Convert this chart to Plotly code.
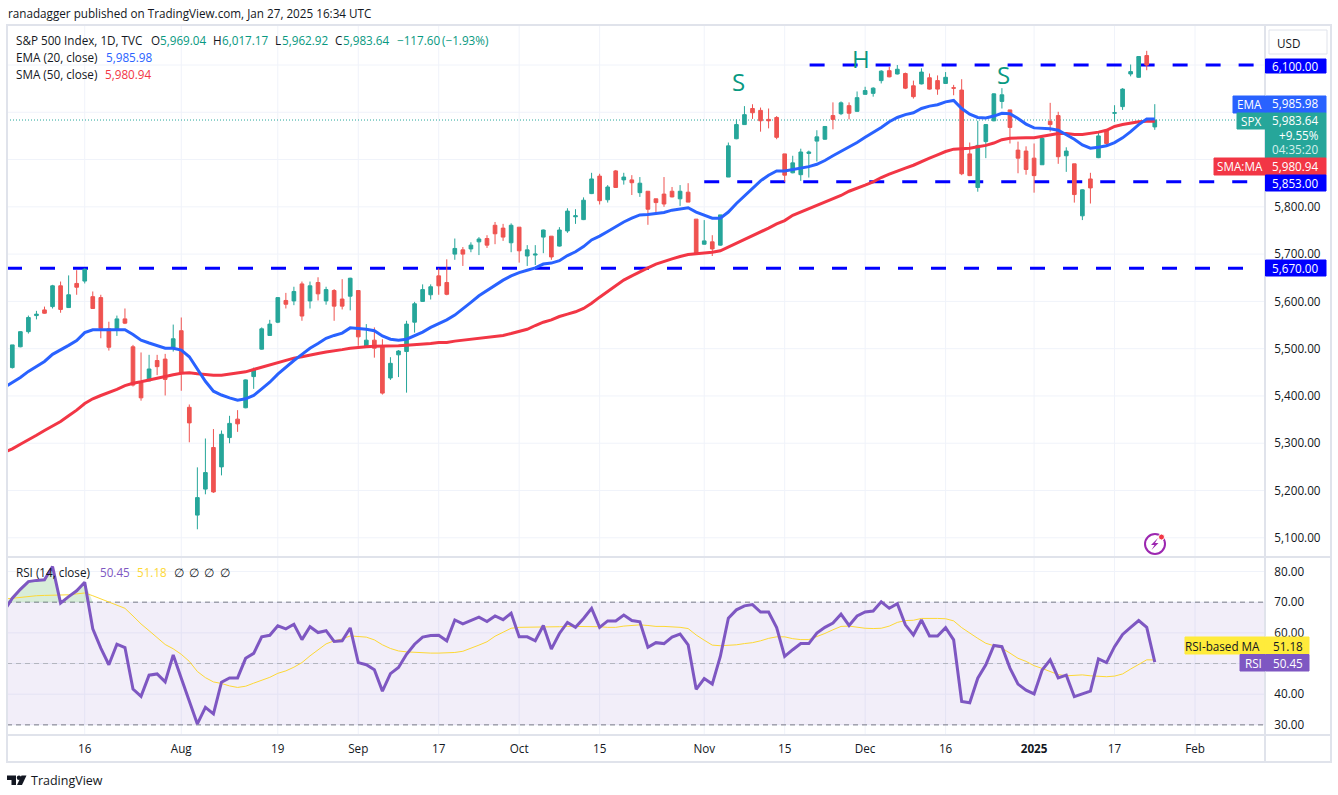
import plotly.graph_objects as go

# daily bars, counted from the first visible candle
opens = [5460,5504,5536,5570,5582,5589,5633,5587,5638,5643,
         5610,5608,5542,5540,5563,5504,5428,5432,5475,5478,
         5502,5538,5376,5148,5203,5291,5250,5312,5351,5375,
         5441,5499,5528,5556,5602,5601,5637,5601,5640,5601,
         5623,5605,5611,5623,5504,5518,5504,5438,5487,5494,
         5556,5600,5614,5654,5640,5700,5709,5711,5726,5733,
         5761,5755,5724,5757,5696,5698,5736,5738,5717,5749,
         5779,5773,5828,5865,5815,5876,5857,5857,5830,5833,
         5817,5827,5833,5817,5831,5774,5721,5726,5719,5863,
         5944,5974,6008,6004,5985,5989,5912,5872,5868,5913,
         5939,5943,5993,5997,6014,6002,6038,6040,6067,6088,
         6081,6082,6056,6060,6073,6067,6061,6052,6047,5912,
         5841,5938,5982,6023,6005,5920,5918,5903,5889,5981,
         5993,5908,5891,5781,5859,5904,5962,5998,6012,6081,
         6074,6120,5969.04]
highs = [5508,5537,5570,5580,5589,5635,5642,5655,5666,5670,
         5621,5614,5557,5570,5585,5508,5492,5487,5487,5489,
         5551,5566,5382,5249,5310,5330,5327,5358,5370,5435,
         5460,5545,5561,5609,5618,5631,5642,5642,5651,5631,
         5626,5647,5650,5623,5552,5545,5520,5482,5497,5559,
         5599,5636,5636,5670,5689,5733,5715,5725,5736,5740,
         5768,5764,5765,5757,5719,5719,5752,5738,5757,5797,
         5795,5820,5872,5870,5846,5878,5872,5867,5863,5833,
         5817,5863,5842,5846,5850,5774,5772,5740,5783,5936,
         5985,6013,6017,6010,6008,5992,5912,5908,5923,5919,
         5962,5971,6021,6023,6021,6044,6054,6053,6089,6096,
         6100,6084,6067,6093,6082,6078,6085,6058,6070,5936,
         5982,5975,6040,6051,6005,5938,5928,5934,5948,6020,
         6001,5926,5891,5837,5872,5960,5962,6015,6051,6101,
         6119,6130,6017.17]
lows = [5458,5503,5532,5562,5574,5585,5576,5586,5614,5638,
        5584,5522,5496,5527,5552,5420,5390,5431,5444,5401,
        5494,5411,5302,5118,5192,5195,5232,5300,5324,5374,
        5415,5498,5527,5554,5585,5592,5559,5585,5602,5593,
        5559,5583,5581,5506,5503,5481,5403,5434,5440,5407,
        5534,5599,5604,5614,5613,5688,5675,5704,5698,5713,
        5721,5728,5704,5682,5675,5677,5702,5688,5716,5745,
        5764,5772,5827,5805,5809,5840,5847,5825,5821,5762,
        5785,5800,5820,5802,5810,5699,5720,5696,5718,5863,
        5943,5974,5986,5959,5966,5943,5853,5871,5855,5862,
        5896,5942,5964,5994,5985,6001,6037,6033,6061,6074,
        6080,6049,6029,6059,6048,6037,6060,6036,5867,5865,
        5832,5903,5981,6008,5934,5871,5868,5830,5889,5959,
        5891,5874,5809,5772,5807,5903,5927,5980,6005,6076,
        6073,6089,5962.92]
closes = [5508,5536,5566,5573,5575,5633,5583,5614,5630,5668,
          5585,5543,5503,5563,5554,5423,5396,5457,5462,5435,
          5521,5449,5343,5185,5238,5197,5319,5342,5341,5434,
          5455,5542,5552,5608,5594,5621,5569,5633,5616,5625,
          5590,5590,5649,5525,5518,5501,5406,5469,5495,5552,
          5595,5625,5631,5633,5615,5712,5700,5719,5732,5719,
          5743,5736,5761,5707,5709,5700,5751,5694,5751,5791,
          5781,5814,5859,5813,5842,5841,5863,5851,5850,5795,
          5809,5806,5821,5833,5810,5700,5728,5711,5783,5929,
          5974,5995,5999,5982,5982,5947,5867,5893,5916,5916,
          5948,5970,5985,6020,5998,6031,6046,6051,6087,6075,
          6091,6051,6033,6085,6049,6049,6074,6051,5870,5866,
          5930,5974,6039,6037,5968,5903,5879,5866,5945,5974,
          5906,5918,5826,5836,5840,5950,5934,5999,6049,6086,
          6118,6100,5983.64]

# the indicator lines start one bar earlier, off the left edge
ema20 = [5418,5429,5439,5452,5463,5473,5488,5497,5507,5517,5534,5540,5540,5539,5540,5540,5530,5518,5512,5507,
         5501,5501,5497,5483,5456,5431,5410,5402,5396,5391,5394,5401,5415,5429,5446,5461,5475,5488,5501,5511,
         5522,5528,5533,5544,5543,5541,5538,5527,5520,5518,5520,5527,5535,5545,5553,5561,
         5571,5584,5598,5612,5623,5635,5645,5654,5661,
         5666,5671,5679,5681,5686,5697,5705,5716,5730,5738,5748,5758,5768,5776,5783,5784,5786,5788,5793,5796,
         5798,5789,5782,5776,5776,5789,5807,5823,5841,5855,5867,
         5876,5876,5879,5882,5885,5890,5898,5908,5917,5926,5936,5947,5957,5968,5980,5989,5995,5999,6008,6013,
         6016,6022,6025,6008,5996,5989,5988,5992,
         5998,5997,5987,5975,5967,5966,5965,5962,5953,5943,5931,5924,5926,5929,5936,5946,5959,5974,5986,5985.98]
sma50 = [5281,5288,5298,5307,5317,5327,5336,5346,5358,5370,5384,5394,5401,5407,5414,5422,5427,5430,5434,5437,
         5441,5445,5448,5449,5447,5445,5444,5444,5446,5448,5451,5456,5461,5465,5470,5475,5480,5483,5487,5490,
         5493,5495,5498,5501,5503,5504,5505,5505,5506,5506,5507,5508,5510,5511,5513,5513,
         5516,5518,5519,5521,5523,5525,5528,5532,5537,5541,5549,5556,5561,5568,5573,5578,5585,5596,
         5609,5621,5634,5645,5654,5663,5671,5679,5685,5690,5695,5699,5701,5702,5704,5707,5715,5723,5731,5739,
         5746,5755,
         5764,5771,5782,5789,5797,5804,5810,5817,5824,5833,5839,5846,5853,5862,5869,5876,5882,5888,5896,5903,
         5910,5917,5922,5923,5924,5927,5930,5935,
         5942,5945,5946,5946,5946,5949,5952,5955,5955,5953,5953,5955,5958,5962,5970,5974,5977,5980,5981,5980.94]
rsi = [67.2,71.3,74.2,76.7,77.1,77.3,81.6,69.7,71.8,73.7,76.5,61.3,55,49.6,56.3,55.2,41.7,39.3,46.2,46.6,
       44,52.8,45.2,37.6,30.3,35.7,33.6,43.9,45.3,45.3,51.7,53.3,58.7,59.2,62.3,61.3,62.8,57.8,62,60.1,
       60.7,57.2,57.4,61.6,50.3,49.6,48,41,46.7,48.7,53,56.3,58.6,59.1,59.2,57.4,
       64.2,62.9,64,65.1,63.7,65.5,64.3,66.4,58.7,58.7,57.4,62.4,54.7,59.8,63.4,61.8,64.7,68,61.8,63.9,
       63.9,65.8,64,63.6,55.3,56.8,56.5,58.6,59.6,56.1,41.6,45.1,43.3,52.3,64.8,67.5,68.8,69.2,66.8,66.8,
       61.7,52.3,54.5,56.5,56.5,59.9,61.8,63.2,66.1,62.4,65.5,66.8,67.1,70.1,68,
       69.5,62.6,59.3,64.2,59,59,61.7,57.7,37.6,37.2,45.2,49.6,55.9,55.5,48.5,43.3,41.3,40.1,47.9,51.2,
       45.3,46.2,39.2,40.1,41,51.5,50.3,55.5,59.5,61.8,64,61.8,50.45]
rsi_ma = [71,71.3,71.5,71.8,72.1,72.2,72.3,72.2,72.4,72.7,73,72.1,71.1,70,69.1,68,65.5,62.9,60.7,58.5,
          56.2,54.8,53,50.7,47.4,45.4,44,43.5,42.7,42.2,42.6,43.6,44.6,45.5,46.8,47.6,48.8,50.3,52.5,54.5,
          56.4,57.4,58,59,58.9,58.6,57.7,56.1,54.9,54.1,53.8,53.6,53.5,53.4,53.4,53.5,
          53.6,54,54.9,56,57.1,58.9,60.2,61.5,61.8,61.8,61.8,62,61.8,62,62.1,62.1,62.2,62.2,62,61.8,
          61.8,62.2,62.5,62.6,62.4,62.1,62.1,62,61.8,61.4,59.3,57.6,56,55.8,55.9,56.1,56.5,56.8,57.4,58.2,
          58.7,58.7,58.1,57.8,57.8,58.7,59.8,61,62.1,62.2,61.8,61.5,61.4,61.5,62.2,
          63.4,64,64.1,64.7,64.8,64.7,64.6,63.9,61.7,59.9,58.2,56.6,55.9,55,53.4,51.7,50.7,49.3,48.4,47.5,
          46.4,46,46.2,46.3,46,45.9,45.7,45.9,46.6,48.2,49.8,51.2,51.18]

bars = list(range(len(closes)))
line_bars = list(range(-1, len(closes)))

# hand drawn levels: price, first bar, last bar
level_prices = [6100, 5853, 5670]
level_starts = [99.1, 86, -0.66]
level_ends = [154.5, 153.9, 153.65]
last_close = 5983.64

time_ticks = [9, 21, 33, 43, 53, 63, 73, 86, 96, 106, 116, 127, 137, 147]
time_labels = ["16", "Aug", "19", "Sep", "17", "Oct", "15", "Nov", "15", "Dec", "16", "<b>2025</b>", "17", "Feb"]
price_ticks = [5100, 5200, 5300, 5400, 5500, 5600, 5700, 5800, 5900, 6000, 6100]
price_labels = ["5,100.00", "5,200.00", "5,300.00", "5,400.00", "5,500.00", "5,600.00", "5,700.00", "5,800.00", "", "", ""]
rsi_ticks = [30, 40, 50, 60, 70, 80]
rsi_labels = ["30.00", "40.00", "", "60.00", "70.00", "80.00"]

pattern_text = ["S", "H", "S"]
pattern_bars = [90.2, 105.5, 123.2]
pattern_prices = [6066, 6113, 6079]

FONT = "Open Sans"
SIZE = 11.7
INK = "#131722"
GRID = "#f0f3fa"
FRAME = "#e0e3eb"
GREEN = "#26a69a"
RED = "#ef5350"
TEAL = "#089981"
BLUE = "#2962ff"
SMA_RED = "#f23645"
PURPLE = "#7e57c2"
YELLOW = "#fdd835"
W, H = 1338, 795
X_RANGE = [-0.66, 155.7]
PRICE_RANGE = [5061.5, 6182.5]
RSI_RANGE = [26.7, 84.4]


def px(x):
    return x / W


def py(y):
    return 1 - y / H


def box(x0, y0, x1, y1, fill, line=None):
    return dict(type="rect", xref="paper", yref="paper", x0=px(x0), x1=px(x1), y0=py(y0), y1=py(y1),
                fillcolor=fill, line=dict(color=line or fill, width=1), layer="above")


def rule(x0, y0, x1, y1, color=FRAME, width=2):
    return dict(type="line", xref="paper", yref="paper", x0=px(x0), x1=px(x1), y0=py(y0), y1=py(y1),
                line=dict(color=color, width=width), layer="above")


def poly(points, fill):
    path = "M " + " L ".join(f"{px(x):.5f} {py(y):.5f}" for x, y in points) + " Z"
    return dict(type="path", xref="paper", yref="paper", path=path, fillcolor=fill,
                line=dict(width=0), layer="above")


def label(x, y, text, color=INK, size=SIZE, anchor="left"):
    return dict(text=text, xref="paper", yref="paper", x=px(x), y=py(y), xanchor=anchor, yanchor="middle",
                showarrow=False, font=dict(family=FONT, size=size, color=color), borderpad=0)


def grid_line(axis, value):
    # plotly grids sit over below-layer shapes and would cut the dashed levels, so they are shapes too
    if axis == "x":
        return [dict(type="line", xref="x", yref=ref, x0=value, x1=value, y0=rng[0], y1=rng[1],
                     line=dict(color=GRID, width=1), layer="below")
                for ref, rng in (("y", PRICE_RANGE), ("y2", RSI_RANGE))]
    return [dict(type="line", xref="x", yref=axis, x0=X_RANGE[0], x1=X_RANGE[1], y0=value, y1=value,
                 line=dict(color=GRID, width=1), layer="below")]


fig = go.Figure()

fig.add_trace(go.Candlestick(
    x=bars, open=opens, high=highs, low=lows, close=closes, whiskerwidth=0,
    increasing=dict(line=dict(color=GREEN, width=1), fillcolor=GREEN),
    decreasing=dict(line=dict(color=RED, width=1), fillcolor=RED),
    xaxis="x", yaxis="y", showlegend=False, hoverinfo="skip"))
fig.add_trace(go.Scatter(x=line_bars, y=sma50, mode="lines", line=dict(color=SMA_RED, width=3), yaxis="y", hoverinfo="skip"))
fig.add_trace(go.Scatter(x=line_bars, y=ema20, mode="lines", line=dict(color=BLUE, width=3), yaxis="y", hoverinfo="skip"))

# green wash where RSI is above 70
fig.add_trace(go.Scatter(x=line_bars, y=[70] * len(line_bars), mode="lines", line=dict(width=0), yaxis="y2", hoverinfo="skip"))
fig.add_trace(go.Scatter(x=line_bars, y=[max(v, 70) for v in rsi], mode="lines", line=dict(width=0), fill="tonexty",
                         fillcolor="rgba(76,175,80,0.22)", yaxis="y2", hoverinfo="skip"))
fig.add_trace(go.Scatter(x=line_bars, y=rsi_ma, mode="lines", line=dict(color=YELLOW, width=1), yaxis="y2", hoverinfo="skip"))
fig.add_trace(go.Scatter(x=line_bars, y=rsi, mode="lines", line=dict(color=PURPLE, width=3), yaxis="y2", hoverinfo="skip"))

shapes = []
for tick in time_ticks:
    shapes += grid_line("x", tick)
for tick in price_ticks:
    shapes += grid_line("y", tick)
for tick in rsi_ticks:
    shapes += grid_line("y2", tick)

for price, start, end in zip(level_prices, level_starts, level_ends):
    shapes.append(dict(type="line", xref="x", yref="y", x0=start, x1=end, y0=price, y1=price,
                       line=dict(color="#0000ff", width=3, dash="15px,18px"), layer="below"))
shapes.append(dict(type="line", xref="x", yref="y", x0=X_RANGE[0], x1=X_RANGE[1], y0=last_close, y1=last_close,
                   line=dict(color=GREEN, width=1, dash="1px,2px"), layer="below"))
shapes.append(dict(type="rect", xref="x", yref="y2", x0=X_RANGE[0], x1=X_RANGE[1], y0=30, y1=70,
                   fillcolor="rgba(126,87,194,0.1)", line=dict(width=0), layer="below"))
for level, tone in zip([70, 50, 30], ["#787b86", "#b2b5be", "#787b86"]):
    shapes.append(dict(type="line", xref="x", yref="y2", x0=X_RANGE[0], x1=X_RANGE[1], y0=level, y1=level,
                       line=dict(color=tone, width=1, dash="5px,4px"), layer="below"))

# frame and panes
shapes += [
    dict(type="rect", xref="paper", yref="paper", x0=px(7), x1=px(1331), y0=py(25), y1=py(762),
         line=dict(color=FRAME, width=2), layer="above"),
    rule(7, 557, 1331, 557),
    rule(7, 735, 1331, 735),
    rule(1265, 25, 1265, 762),
]

# price scale flags
shapes += [
    box(1269, 30, 1327, 54, "white", FRAME),
    box(1265.5, 59, 1326, 73, "#0000ff"),
    box(1233, 96, 1265, 113, BLUE),
    box(1265.5, 96, 1326, 113, BLUE),
    box(1237, 113, 1265, 129, GREEN),
    box(1265.5, 113, 1326, 158, GREEN),
    box(1214, 158, 1265, 175, SMA_RED),
    box(1265.5, 158, 1326, 175, SMA_RED),
    box(1265.5, 175, 1326, 191, "#0000ff"),
    box(1265.5, 260, 1326, 276, "#0000ff"),
    box(1185, 637, 1265, 654, "#ffeb3b"),
    box(1265.5, 637, 1309, 654, "#ffeb3b"),
    box(1240, 654.5, 1265, 671, PURPLE),
    box(1265.5, 654.5, 1309, 671, PURPLE),
]

# lightning badge
shapes += [
    dict(type="circle", xref="paper", yref="paper", x0=px(1145), x1=px(1165), y0=py(534), y1=py(554),
         fillcolor="white", line=dict(color="#9c27b0", width=2), layer="above"),
    poly([(1158, 538), (1151, 545), (1154.5, 545), (1151.5, 550), (1158.5, 543), (1155, 543)], "#9c27b0"),
    dict(type="circle", xref="paper", yref="paper", x0=px(1158.5), x1=px(1164.5), y0=py(534), y1=py(540),
         fillcolor=SMA_RED, line=dict(color="white", width=1), layer="above"),
]

# TradingView mark
shapes += [
    poly([(7, 775.5), (16, 775.5), (16, 785), (11.5, 785), (11.5, 780), (7, 780)], INK),
    poly([(26.5, 775.5), (22, 785), (17, 785), (21.5, 775.5)], INK),
    dict(type="circle", xref="paper", yref="paper", x0=px(16.8), x1=px(21.2), y0=py(775.5), y1=py(780),
         fillcolor=INK, line=dict(width=0), layer="above"),
]

notes = [
    label(7, 13, "ranadagger published on TradingView.com, Jan 27, 2025 16:34 UTC"),
    label(15, 40, "S&amp;P 500 Index, 1D, TVC"),
    label(150, 40, "O"), label(159, 40, "5,969.04", TEAL),
    label(212, 40, "H"), label(221, 40, "6,017.17", TEAL),
    label(274, 40, "L"), label(281, 40, "5,962.92", TEAL),
    label(334, 40, "C"), label(342, 40, "5,983.64", TEAL),
    label(396, 40, "\u2212117.60", TEAL), label(441, 40, "(\u22121.93%)", TEAL),
    label(15, 57, "EMA (20, close)"), label(105, 57, "5,985.98", BLUE),
    label(15, 74, "SMA (50, close)"), label(104, 74, "5,980.94", SMA_RED),
    label(15, 572, "RSI (14, close)"), label(99, 572, "50.45", PURPLE), label(136, 572, "51.18", YELLOW),
    label(173, 572, "\u2205"), label(188, 572, "\u2205"), label(203, 572, "\u2205"), label(219, 572, "\u2205"),
    label(1288, 43, "USD", anchor="center"),
    label(1320, 66, "6,100.00", "white", anchor="right"),
    label(1249, 104, "EMA", "white", anchor="center"),
    label(1320, 103, "5,985.98", "white", anchor="right"),
    label(1251, 121, "SPX", "white", anchor="center"),
    label(1320, 120, "5,983.64", "white", anchor="right"),
    label(1320, 135, "+9.55%", "white", anchor="right"),
    label(1320, 149, "04:35:20", "#d4f0ec", anchor="right"),
    label(1240, 166, "SMA:MA", "white", anchor="center"),
    label(1320, 166, "5,980.94", "white", anchor="right"),
    label(1320, 183, "5,853.00", "white", anchor="right"),
    label(1320, 268, "5,670.00", "white", anchor="right"),
    label(1261, 646, "RSI-based MA", anchor="right"),
    label(1304, 646, "51.18", anchor="right"),
    label(1253, 663, "RSI", "white", anchor="center"),
    label(1304, 663, "50.45", "white", anchor="right"),
    label(30, 780, "TradingView", size=12.5),
]
for text, bar, price in zip(pattern_text, pattern_bars, pattern_prices):
    notes.append(dict(text=text, xref="x", yref="y", x=bar, y=price, showarrow=False,
                      font=dict(family=FONT, size=24, color=TEAL)))

fig.update_layout(
    width=W, height=H,
    margin=dict(l=0, r=0, t=0, b=0),
    paper_bgcolor="white", plot_bgcolor="white",
    showlegend=False, boxgap=0.35, hovermode=False,
    font=dict(family=FONT, size=SIZE, color=INK),
    xaxis=dict(domain=[px(7), px(1265)], range=X_RANGE, anchor="y2", rangeslider=dict(visible=False),
               tickmode="array", tickvals=time_ticks, ticktext=time_labels, showgrid=False,
               zeroline=False, ticks="outside", ticklen=3, tickcolor="rgba(0,0,0,0)", showline=False),
    yaxis=dict(domain=[py(556), py(26)], range=PRICE_RANGE, side="right", anchor="x",
               tickmode="array", tickvals=price_ticks, ticktext=price_labels, showgrid=False,
               zeroline=False, ticks="outside", ticklen=6, tickcolor="rgba(0,0,0,0)", showline=False),
    yaxis2=dict(domain=[py(735), py(558)], range=RSI_RANGE, side="right", anchor="x",
                tickmode="array", tickvals=rsi_ticks, ticktext=rsi_labels, showgrid=False,
                zeroline=False, ticks="outside", ticklen=6, tickcolor="rgba(0,0,0,0)", showline=False),
    shapes=shapes,
    annotations=notes,
)

assert len(opens) == len(highs) == len(lows) == len(closes) == 143
assert len(ema20) == len(sma50) == len(rsi) == len(rsi_ma) == 144

fig.write_html("out.html", config=dict(displayModeBar=False),
               post_script="document.body.style.margin='0';document.body.style.overflow='hidden';")
